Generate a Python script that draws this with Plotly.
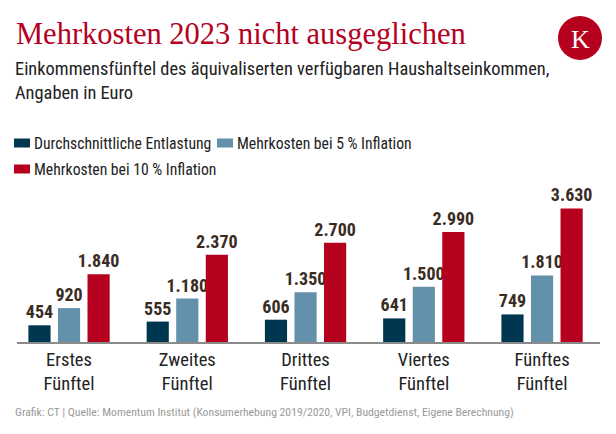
import plotly.graph_objects as go

categories = ["Erstes<br>Fünftel", "Zweites<br>Fünftel", "Drittes<br>Fünftel",
              "Viertes<br>Fünftel", "Fünftes<br>Fünftel"]
series_names = ["Durchschnittliche Entlastung", "Mehrkosten bei 5 % Inflation",
                "Mehrkosten bei 10 % Inflation"]
entlastung = [454, 555, 606, 641, 749]
inflation5 = [920, 1180, 1350, 1500, 1810]
inflation10 = [1840, 2370, 2700, 2990, 3630]
colors = ["#003750", "#6390aa", "#b5001e"]

W, H = 616, 434
L, R, T, B = 17, 16, 190, 92
PW, PH = W - L - R, H - T - B

def px(x):
    return (x - L) / PW

def py(y):
    return (H - B - y) / PH

COND = "Liberation Sans Narrow, Roboto Condensed, Arial Narrow, Roboto, sans-serif"
LABEL_COLOR = "#3a2c23"

fig = go.Figure()
xs = list(range(len(categories)))
for name, vals, col in zip(series_names, [entlastung, inflation5, inflation10], colors):
    fig.add_trace(go.Bar(
        x=xs, y=vals, name=name, marker_color=col, marker_line_width=0,
        texttemplate="%{y:,}", textposition="outside", constraintext="none",
        textfont=dict(family=COND, size=18, color=LABEL_COLOR, weight="bold"),
        cliponaxis=False, showlegend=False, hoverinfo="skip",
    ))

fig.update_layout(
    width=W, height=H, margin=dict(l=L, r=R, t=T, b=B, autoexpand=False),
    paper_bgcolor="white", plot_bgcolor="white",
    barmode="group", bargap=0.25, bargroupgap=0.25,
    separators=",.",
    font=dict(family=COND),
    showlegend=False,
)
fig.update_xaxes(
    range=[-0.44, 4.49], tickmode="array", tickvals=xs, ticktext=categories,
    showline=True, linecolor="#8a8a8a", linewidth=2, showgrid=False,
    zeroline=False, ticks="", tickfont=dict(family=COND, size=18.5, color="#222222"),
    fixedrange=True, automargin=False,
)
fig.update_yaxes(range=[0, 4130], visible=False, fixedrange=True, automargin=False)

ann = []
def add_text(text, x, y, size, color, family=COND, xanchor="left", align="left"):
    ann.append(dict(text=text, xref="paper", yref="paper", x=px(x), y=py(y),
                    xanchor=xanchor, yanchor="middle", align=align, showarrow=False,
                    font=dict(family=family, size=size, color=color)))

SERIF = "Liberation Serif, DejaVu Serif, serif"
add_text("Mehrkosten 2023 nicht ausgeglichen", 14, 34, 30.5, "#b5001e", family=SERIF)
add_text("Einkommensfünftel des äquivaliserten verfügbaren Haushaltseinkommen,<br>Angaben in Euro",
         13, 80, 18.4, "#222222")

legend_items = [(14, 143), (217, 143), (14, 169)]
shapes = []
for (lx, ly), name, col in zip(legend_items, series_names, colors):
    shapes.append(dict(type="rect", xref="paper", yref="paper",
                       x0=px(lx), x1=px(lx + 16), y0=py(ly + 4.5), y1=py(ly - 4.5),
                       fillcolor=col, line_width=0))
    add_text(name, lx + 18, ly, 15.7, "#222222")

add_text("Grafik: CT | Quelle: Momentum Institut (Konsumerhebung 2019/2020, VPI, Budgetdienst, Eigene Berechnung)",
         13, 412, 11.7, "#9a9a9a")

cx, cy, r = 580, 38, 22
shapes.append(dict(type="circle", xref="paper", yref="paper",
                   x0=px(cx - r), x1=px(cx + r), y0=py(cy + r), y1=py(cy - r),
                   fillcolor="#b5001e", line_width=0))
add_text("K", cx, cy + 1, 26, "white", family=SERIF, xanchor="center", align="center")

fig.update_layout(annotations=ann, shapes=shapes)
fig.write_html("out.html", config={"displayModeBar": False, "staticPlot": True},
               post_script="document.body.style.margin='0';")
